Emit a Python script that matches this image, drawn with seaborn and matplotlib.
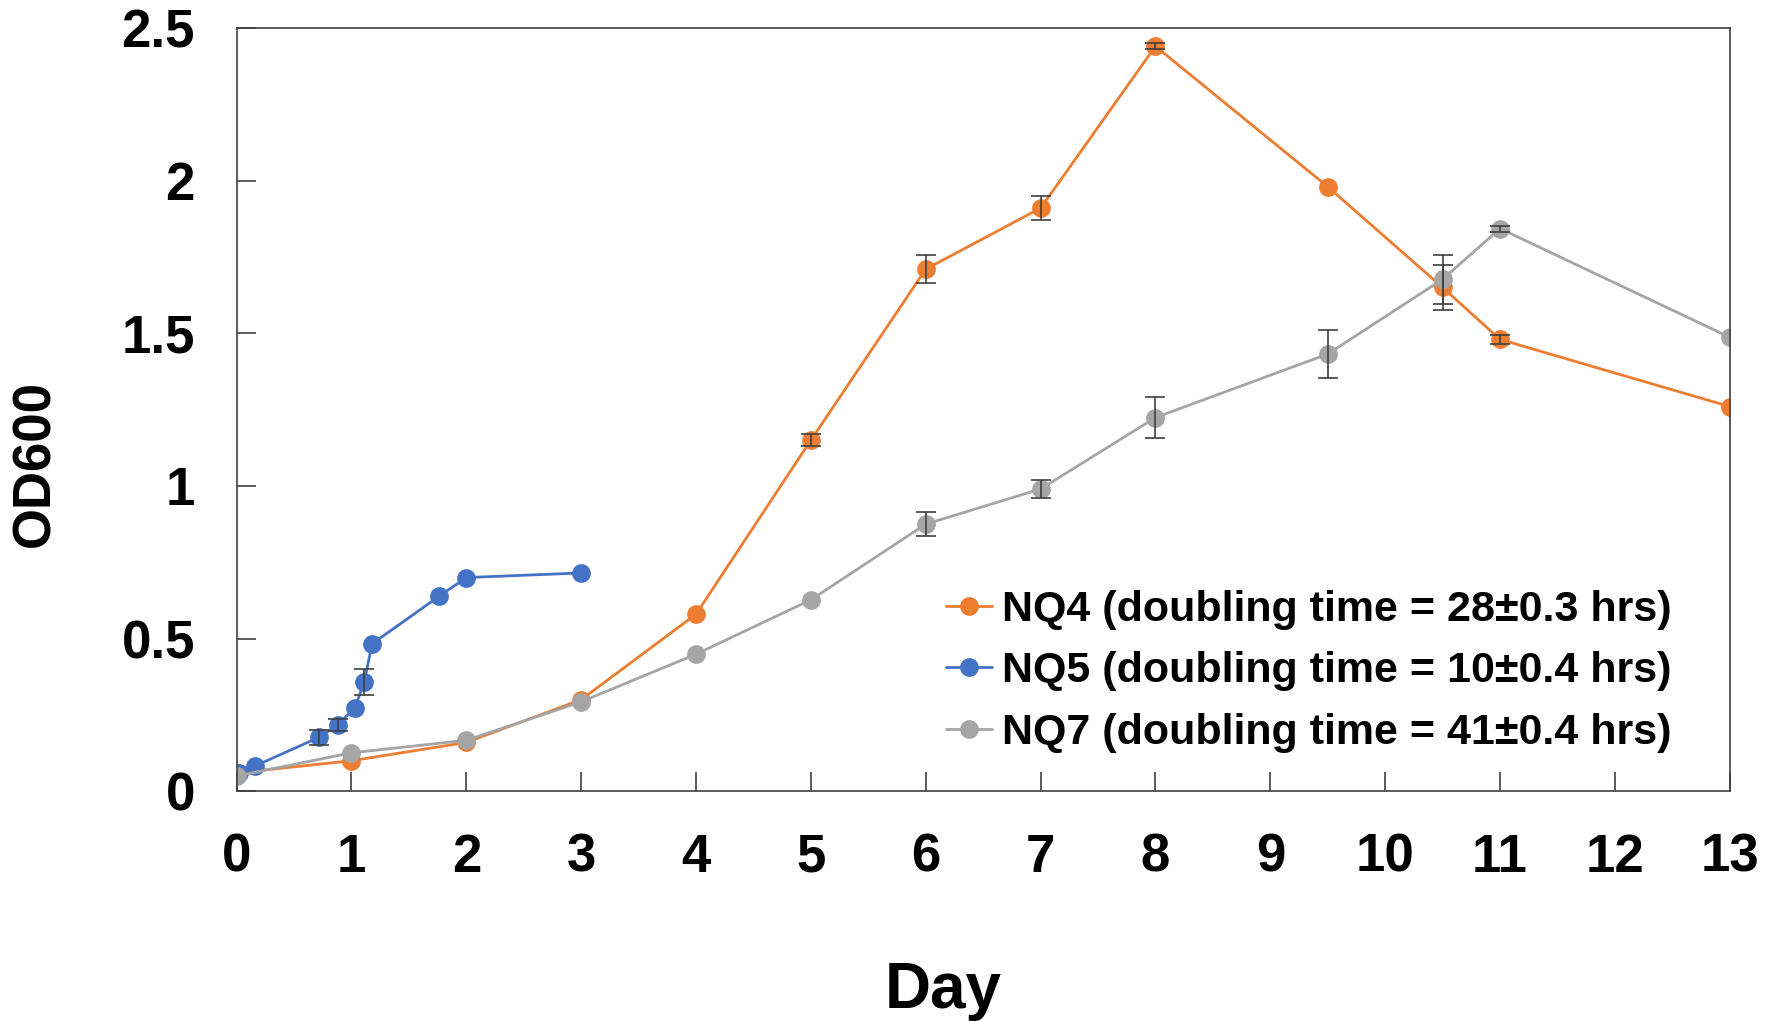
import numpy as np
import pandas as pd
import matplotlib
matplotlib.use("Agg")
import matplotlib.pyplot as plt
import seaborn as sns

# Data
nq4_day = [0, 1, 2, 3, 4, 5, 6, 7, 8, 9.5, 10.5, 11, 13]
nq4_od = [0.06, 0.10, 0.16, 0.30, 0.58, 1.15, 1.71, 1.91, 2.44, 1.98, 1.65, 1.48, 1.26]
nq4_err = [0.0, 0.0, 0.0, 0.0, 0.0, 0.02, 0.045, 0.04, 0.01, 0.0, 0.075, 0.015, 0.0]

nq5_day = [0.02, 0.16, 0.72, 0.88, 1.03, 1.11, 1.18, 1.76, 2.0, 3.0]
nq5_od = [0.06, 0.083, 0.177, 0.217, 0.274, 0.357, 0.483, 0.638, 0.70, 0.715]
nq5_err = [0.0, 0.0, 0.025, 0.02, 0.0, 0.042, 0.0, 0.0, 0.0, 0.0]

nq7_day = [0, 1, 2, 3, 4, 5, 6, 7, 8, 9.5, 10.5, 11, 13]
nq7_od = [0.05, 0.126, 0.167, 0.293, 0.449, 0.627, 0.875, 0.99, 1.224, 1.432, 1.677, 1.843, 1.487]
nq7_err = [0.0, 0.0, 0.0, 0.0, 0.0, 0.0, 0.04, 0.03, 0.067, 0.079, 0.08, 0.01, 0.0]

labels = ["NQ4 (doubling time = 28\u00b10.3 hrs)",
          "NQ5 (doubling time = 10\u00b10.4 hrs)",
          "NQ7 (doubling time = 41\u00b10.4 hrs)"]
colors = ["#ED7D31", "#4472C4", "#A5A5A5"]

x_ticks = list(range(0, 14))
y_ticks = [0, 0.5, 1, 1.5, 2, 2.5]
y_tick_labels = ["0", "0.5", "1", "1.5", "2", "2.5"]

sns.set_theme(style="ticks")
plt.rcParams['font.family'] = ['Liberation Sans', 'DejaVu Sans']
plt.rcParams['font.weight'] = 'bold'
plt.rcParams['text.color'] = 'black'
plt.rcParams['axes.labelcolor'] = 'black'
plt.rcParams['xtick.labelcolor'] = 'black'
plt.rcParams['ytick.labelcolor'] = 'black'

fig = plt.figure(figsize=(17.75, 10.21), dpi=100)
ax = fig.add_axes([0.1333, 0.225, 0.8412, 0.7476])

series = [(nq4_day, nq4_od, nq4_err), (nq5_day, nq5_od, nq5_err), (nq7_day, nq7_od, nq7_err)]
for (d, od, err), lab, col in zip(series, labels, colors):
    sns.lineplot(x=d, y=od, ax=ax, color=col, marker='o', markersize=13.5,
                 markeredgewidth=0, linewidth=2.0, label=lab)

# error bars on top
for (d, od, err), col in zip(series, colors):
    d = np.array(d)
    od = np.array(od)
    err = np.array(err)
    m = err > 0
    ax.errorbar(d[m], od[m], yerr=err[m], fmt='none', ecolor='#404040',
                elinewidth=1.2, capsize=7, capthick=1.2, zorder=5)

ax.set_xlim(0, 13)
ax.set_ylim(0, 2.5)
ax.set_xticks(x_ticks)
ax.set_yticks(y_ticks)
ax.set_yticklabels(y_tick_labels)
ax.tick_params(axis='both', direction='in', labelsize=38, color='#404040',
               width=1.2)
ax.tick_params(axis='x', length=14, pad=30)
ax.tick_params(axis='y', length=14, pad=30)
for t in ax.get_xticklabels() + ax.get_yticklabels():
    t.set_fontweight('bold')

for s in ax.spines.values():
    s.set_color('#404040')
    s.set_linewidth(1.2)

ax.set_xlabel("Day", fontsize=46, fontweight='bold')
ax.set_ylabel("OD600", fontsize=38, fontweight='bold')
ax.xaxis.set_label_coords(0.473, -0.222)
ax.yaxis.set_label_coords(-0.118, 0.429)

leg = ax.legend(loc='center', bbox_to_anchor=(0.718, 0.157), frameon=False,
                fontsize=31, handlelength=1.08, handletextpad=0.22,
                labelspacing=0.5, borderaxespad=0)
for t in leg.get_texts():
    t.set_fontweight('bold')

fig.savefig("out.png", dpi=100)
